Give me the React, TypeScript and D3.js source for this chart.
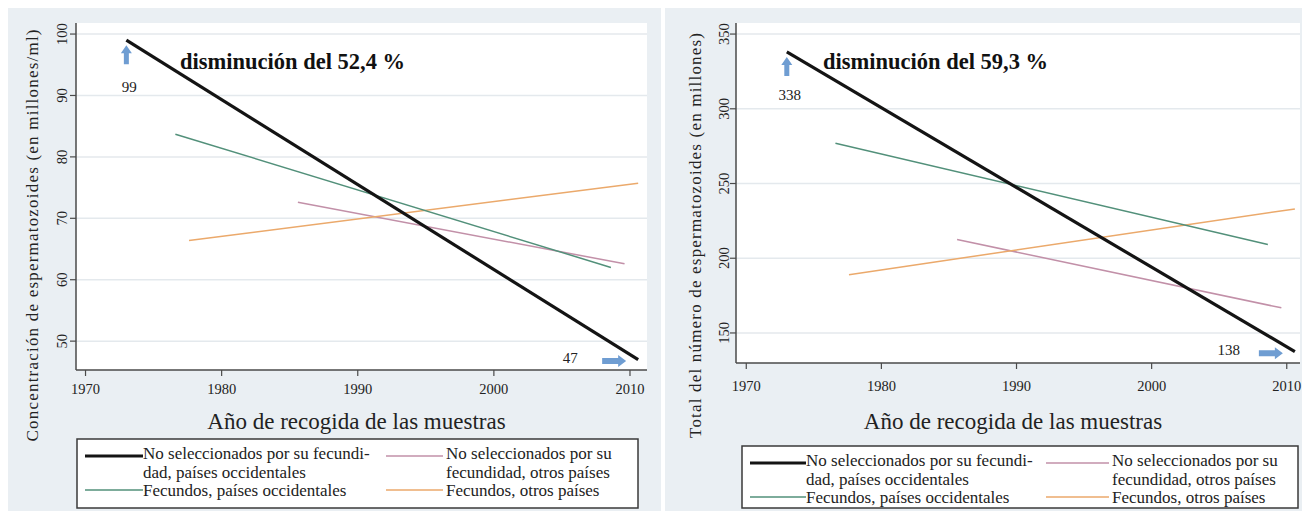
import React from "react";
import * as d3 from "d3";

// ---------- data ----------
const xTicks = [1970, 1980, 1990, 2000, 2010];
const leftYTicks = [50, 60, 70, 80, 90, 100];
const rightYTicks = [150, 200, 250, 300, 350];

const seriesNames = [
  "No seleccionados por su fecundidad, países occidentales",
  "No seleccionados por su fecundidad, otros países",
  "Fecundos, países occidentales",
  "Fecundos, otros países",
];

// [startYear, endYear]
const unselWestYears = [1973.0, 2010.6];
const unselOtherYears = [1985.6, 2009.6];
const fertWestYears = [1976.6, 2008.6];
const fertOtherYears = [1977.6, 2010.6];

// concentration (millones/ml)
const concUnselWest = [99, 47];
const concUnselOther = [72.6, 62.6];
const concFertWest = [83.7, 62.0];
const concFertOther = [66.4, 75.7];

// total count (millones)
const totUnselWest = [338, 137.5];
const totUnselOther = [212.5, 166.8];
const totFertWest = [277, 209.2];
const totFertOther = [189, 233];

const leftTitle = "disminución del 52,4 %";
const rightTitle = "disminución del 59,3 %";
const leftYLabel = "Concentración de espermatozoides (en millones/ml)";
const rightYLabel = "Total del número de espermatozoides (en millones)";
const xLabel = "Año de recogida de las muestras";

const COLORS = ["#141414", "#c290a8", "#52907a", "#eba96b"];
const WIDTHS = [3.2, 1.5, 1.5, 1.5];
const ARROW = "#6f9dd2";
const FONT = "'Liberation Serif', 'Times New Roman', 'DejaVu Serif', serif";

type PanelProps = {
  bg: [number, number, number, number];
  plot: { l: number; r: number; t: number; b: number };
  xDomain: [number, number];
  yDomain: [number, number];
  yTicks: number[];
  values: number[][];
  title: string;
  titleX: number;
  yLabel: string;
  yLabelX: number;
  yTickX: number;
  xTickY: number;
  startLabelDy: number;
  endLabelDx: number;
  legend: { x: number; y: number; w: number; h: number; c1: number; t1: number; c2: number; t2: number };
  yLabelLen: number;
};

const yearsList = [unselWestYears, unselOtherYears, fertWestYears, fertOtherYears];

function Panel(p: PanelProps) {
  const x = d3.scaleLinear().domain(p.xDomain).range([p.plot.l, p.plot.r]);
  const y = d3.scaleLinear().domain(p.yDomain).range([p.plot.b, p.plot.t]);
  const line = d3
    .line<[number, number]>()
    .x((d) => x(d[0]))
    .y((d) => y(d[1]));

  const bx = x(yearsList[0][0]);
  const by = y(p.values[0][0]);
  const ex = x(yearsList[0][1]);
  const ey = y(p.values[0][1]);
  const startVal = p.values[0][0];
  const endVal = p.values[0][1];

  const lg = p.legend;
  const rowY = [lg.y + 14, lg.y + 33, lg.y + 51];

  return (
    <g>
      <rect x={p.bg[0]} y={p.bg[1]} width={p.bg[2]} height={p.bg[3]} fill="#eaeff3" />
      <rect x={p.plot.l} y={p.plot.t} width={p.plot.r - p.plot.l} height={p.plot.b - p.plot.t} fill="#ffffff" />
      {p.yTicks.map((t) => (
        <line key={"g" + t} x1={p.plot.l} x2={p.plot.r} y1={y(t)} y2={y(t)} stroke="#e4e9ed" strokeWidth={1.5} />
      ))}
      {/* axes */}
      <line x1={p.plot.l} x2={p.plot.l} y1={p.plot.t} y2={p.plot.b} stroke="#4a4a4a" strokeWidth={1.5} />
      <line x1={p.plot.l} x2={p.plot.r} y1={p.plot.b} y2={p.plot.b} stroke="#4a4a4a" strokeWidth={1.5} />
      {p.yTicks.map((t) => (
        <g key={"yt" + t}>
          <line x1={p.plot.l - 6} x2={p.plot.l} y1={y(t)} y2={y(t)} stroke="#4a4a4a" strokeWidth={1.2} />
          <text
            transform={`translate(${p.yTickX},${y(t)}) rotate(-90)`}
            textAnchor="middle"
            dominantBaseline="central"
            fontFamily={FONT}
            fontSize={14.5}
            fill="#222"
          >
            {t}
          </text>
        </g>
      ))}
      {xTicks.map((t) => (
        <g key={"xt" + t}>
          <line x1={x(t)} x2={x(t)} y1={p.plot.b} y2={p.plot.b + 6} stroke="#4a4a4a" strokeWidth={1.2} />
          <text x={x(t)} y={p.xTickY} textAnchor="middle" dominantBaseline="central" fontFamily={FONT} fontSize={14.5} fill="#222">
            {t}
          </text>
        </g>
      ))}
      <text
        x={(p.plot.l + p.plot.r) / 2 - 5}
        y={421}
        textAnchor="middle"
        dominantBaseline="central"
        fontFamily={FONT}
        fontSize={23}
        fill="#222"
      >
        {xLabel}
      </text>
      <text
        transform={`translate(${p.yLabelX},${(p.plot.t + 440) / 2 + 4}) rotate(-90)`}
        textAnchor="middle"
        dominantBaseline="central"
        fontFamily={FONT}
        fontSize={17}
        textLength={p.yLabelLen}
        lengthAdjust="spacing"
        fill="#222"
      >
        {p.yLabel}
      </text>

      {/* series */}
      {[1, 3, 2, 0].map((i) => (
        <path
          key={"s" + i}
          d={line([
            [yearsList[i][0], p.values[i][0]],
            [yearsList[i][1], p.values[i][1]],
          ]) as string}
          fill="none"
          stroke={COLORS[i]}
          strokeWidth={WIDTHS[i]}
        />
      ))}

      {/* annotations */}
      <path d={`M${bx},${by + 5} l5.5,8 h-3 v11 h-5 v-11 h-3 z`} fill={ARROW} />
      <text x={bx + 3} y={by + p.startLabelDy} textAnchor="middle" dominantBaseline="central" fontFamily={FONT} fontSize={15} fill="#222">
        {startVal}
      </text>
      <path d={`M${ex - 12},${ey + 1.5} l-8,-6 v3 h-16 v6 h16 v3 z`} fill={ARROW} />
      <text x={ex + p.endLabelDx} y={ey - 2} textAnchor="middle" dominantBaseline="central" fontFamily={FONT} fontSize={15} fill="#222">
        {Math.round(endVal)}
      </text>
      <text x={p.titleX} y={61} dominantBaseline="central" fontFamily={FONT} fontSize={22.5} fontWeight="bold" fill="#111">
        {p.title}
      </text>

      {/* legend */}
      <rect x={lg.x} y={lg.y} width={lg.w} height={lg.h} fill="#ffffff" stroke="#3a3a3a" strokeWidth={1.5} />
      {[0, 2].map((i, k) => (
        <line
          key={"ll" + i}
          x1={lg.c1}
          x2={lg.t1}
          y1={k === 0 ? rowY[0] + 3 : rowY[2]}
          y2={k === 0 ? rowY[0] + 3 : rowY[2]}
          stroke={COLORS[i]}
          strokeWidth={i === 0 ? 3 : 1.5}
        />
      ))}
      {[1, 3].map((i, k) => (
        <line
          key={"lr" + i}
          x1={lg.c2}
          x2={lg.t2 - 3}
          y1={k === 0 ? rowY[0] + 3 : rowY[2]}
          y2={k === 0 ? rowY[0] + 3 : rowY[2]}
          stroke={COLORS[i]}
          strokeWidth={1.5}
        />
      ))}
      <g fontFamily={FONT} fontSize={17} fill="#222" dominantBaseline="central">
        <text x={lg.t1} y={rowY[0]}>No seleccionados por su fecundi-</text>
        <text x={lg.t1} y={rowY[1]}>dad, países occidentales</text>
        <text x={lg.t1} y={rowY[2]}>Fecundos, países occidentales</text>
        <text x={lg.t2} y={rowY[0]}>No seleccionados por su</text>
        <text x={lg.t2} y={rowY[1]}>fecundidad, otros países</text>
        <text x={lg.t2} y={rowY[2]}>Fecundos, otros países</text>
      </g>
    </g>
  );
}

export default function App() {
  return (
    <svg
      width={1302}
      height={511}
      style={{ position: "absolute", left: 0, top: 0, background: "#ffffff" }}
      aria-label={seriesNames.join("; ")}
    >
      <Panel
        bg={[8, 8, 653, 503]}
        plot={{ l: 76, r: 647, t: 23, b: 370 }}
        xDomain={[1969.3, 2011.25]}
        yDomain={[45.3, 101.8]}
        yTicks={leftYTicks}
        values={[concUnselWest, concUnselOther, concFertWest, concFertOther]}
        title={leftTitle}
        titleX={180}
        yLabel={leftYLabel}
        yLabelX={32}
        yTickX={62}
        xTickY={389}
        startLabelDy={47}
        endLabelDx={-68}
        legend={{ x: 77, y: 439, w: 561, h: 69, c1: 85, t1: 143, c2: 386, t2: 446 }}
        yLabelLen={412}
      />
      <Panel
        bg={[665, 8, 637, 503]}
        plot={{ l: 736, r: 1300, t: 23, b: 363 }}
        xDomain={[1969.24, 2010.98]}
        yDomain={[129.9, 357.4]}
        yTicks={rightYTicks}
        values={[totUnselWest, totUnselOther, totFertWest, totFertOther]}
        title={rightTitle}
        titleX={823}
        yLabel={rightYLabel}
        yLabelX={695}
        yTickX={724}
        xTickY={386}
        startLabelDy={43}
        endLabelDx={-66}
        legend={{ x: 742, y: 446, w: 556, h: 62, c1: 750, t1: 806, c2: 1046, t2: 1112 }}
        yLabelLen={405}
      />
    </svg>
  );
}
